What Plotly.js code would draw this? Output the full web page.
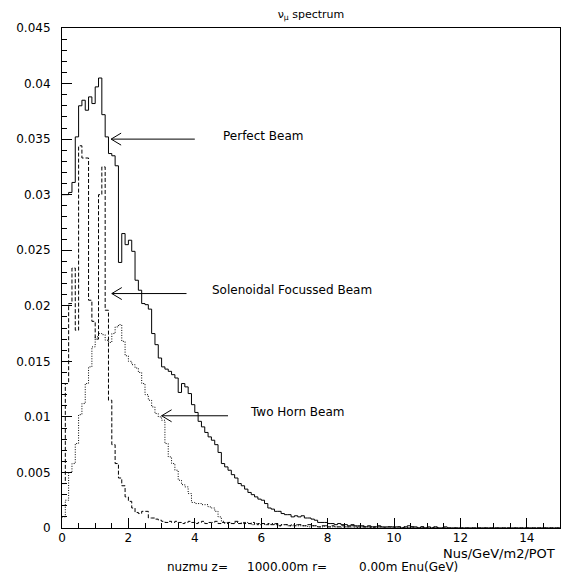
<!DOCTYPE html>
<html>
<head>
<meta charset="utf-8">
<script src="https://cdn.plot.ly/plotly-3.0.1.min.js"></script>
<style>html,body{margin:0;padding:0;background:#fff;}#chart{width:561px;height:575px;}</style>
</head>
<body>
<div id="chart"></div>
<script>
// Bin width (GeV) of the histograms
const BIN = 0.1;

// Perfect Beam (solid)
const perfectBeam = [
0.0300,0.0300,0.0302,0.0311,0.0352,0.0380,0.0385,0.0376,0.0388,0.0382,
0.0397,0.0405,0.0372,0.0352,0.0337,0.0335,0.0326,0.0239,0.0265,0.0255,
0.0259,0.0249,0.0223,0.0214,0.0202,0.0201,0.0197,0.0175,0.0165,0.0153,
0.0145,0.0143,0.0141,0.0138,0.0135,0.0122,0.0130,0.0127,0.0121,0.0111,
0.0104,0.0096,0.0091,0.0086,0.0082,0.0079,0.0075,0.0068,0.0058,0.0055,
0.0052,0.0048,0.0045,0.0040,0.0038,0.0035,0.0032,0.0030,0.0028,0.0026,
0.0025,0.0022,0.0018,0.0017,0.0015,0.0015,0.0013,0.0012,0.0012,0.0010,
0.0011,0.0010,0.0011,0.0009,0.0009,0.0008,0.0007,0.0005,0.0005,0.0005,
0.0004,0.0004,0.0003,0.0004,0.0003,0.0003,0.0002,0.0003,0.0002,0.0002,
0.0002,0.0001,0.0002,0.0001,0.0001,0.0002,0.0001,0.0001,0.0001,0.0001,
0.0001,0.0001,0.0000,0.0001,0.0002,0.0001,0.0001,0.0000,0.0001,0.0000,
0.0001,0.0000,0.0001,0.0000,0.0000,0.0001,0.0000,0.0000,0.0000,0.0000,
0.0000,0.0000,0.0000,0.0000,0.0000,0.0000,0.0000,0.0000,0.0000,0.0000,
0.0000,0.0000,0.0000,0.0000,0.0000,0.0000,0.0000,0.0000,0.0000,0.0000,
0.0000,0.0000,0.0000,0.0000,0.0000,0.0000,0.0000,0.0000,0.0000,0.0000
];

// Solenoidal Focussed Beam (dashed)
const solenoidalBeam = [
0.0040,0.0130,0.0202,0.0234,0.0178,0.0344,0.0333,0.0333,0.0205,0.0186,
0.0170,0.0300,0.0325,0.0196,0.0115,0.0075,0.0058,0.0045,0.0038,0.0028,
0.0024,0.0018,0.0014,0.0013,0.0015,0.0015,0.0009,0.0009,0.0008,0.0007,
0.0006,0.0005,0.0006,0.0005,0.0006,0.0005,0.0004,0.0005,0.0006,0.0005,
0.0004,0.0005,0.0006,0.0004,0.0005,0.0005,0.0006,0.0004,0.0005,0.0004,
0.0005,0.0004,0.0006,0.0004,0.0005,0.0004,0.0004,0.0005,0.0003,0.0004,
0.0004,0.0003,0.0004,0.0003,0.0004,0.0002,0.0003,0.0003,0.0002,0.0003,
0.0002,0.0003,0.0002,0.0002,0.0003,0.0002,0.0002,0.0001,0.0002,0.0002,
0.0001,0.0002,0.0001,0.0001,0.0002,0.0001,0.0001,0.0002,0.0001,0.0001,
0.0001,0.0001,0.0001,0.0000,0.0001,0.0001,0.0001,0.0000,0.0001,0.0001,
0.0000,0.0001,0.0000,0.0001,0.0000,0.0001,0.0000,0.0000,0.0001,0.0000,
0.0000,0.0000,0.0001,0.0000,0.0000,0.0000,0.0000,0.0000,0.0000,0.0000,
0.0000,0.0000,0.0000,0.0000,0.0000,0.0000,0.0000,0.0000,0.0000,0.0000,
0.0000,0.0000,0.0000,0.0000,0.0000,0.0000,0.0000,0.0000,0.0000,0.0000,
0.0000,0.0000,0.0000,0.0000,0.0000,0.0000,0.0000,0.0000,0.0000,0.0000
];

// Two Horn Beam (dotted)
const twoHornBeam = [
0.0010,0.0025,0.0050,0.0058,0.0076,0.0102,0.0112,0.0130,0.0145,0.0163,
0.0172,0.0175,0.0174,0.0169,0.0167,0.0175,0.0181,0.0183,0.0168,0.0155,
0.0150,0.0147,0.0144,0.0140,0.0130,0.0120,0.0115,0.0109,0.0103,0.0100,
0.0097,0.0076,0.0064,0.0058,0.0052,0.0043,0.0039,0.0037,0.0031,0.0023,
0.0022,0.0022,0.0021,0.0021,0.0019,0.0018,0.0015,0.0010,0.0006,0.0005,
0.0005,0.0004,0.0005,0.0004,0.0004,0.0005,0.0004,0.0003,0.0004,0.0003,
0.0004,0.0003,0.0003,0.0004,0.0003,0.0002,0.0003,0.0003,0.0002,0.0002,
0.0003,0.0002,0.0002,0.0002,0.0001,0.0002,0.0002,0.0001,0.0001,0.0002,
0.0001,0.0001,0.0001,0.0001,0.0000,0.0001,0.0001,0.0000,0.0001,0.0000,
0.0001,0.0000,0.0000,0.0001,0.0000,0.0000,0.0000,0.0000,0.0000,0.0000,
0.0000,0.0000,0.0000,0.0000,0.0000,0.0000,0.0000,0.0000,0.0000,0.0000,
0.0000,0.0000,0.0000,0.0000,0.0000,0.0000,0.0000,0.0000,0.0000,0.0000,
0.0000,0.0000,0.0000,0.0000,0.0000,0.0000,0.0000,0.0000,0.0000,0.0000,
0.0000,0.0000,0.0000,0.0000,0.0000,0.0000,0.0000,0.0000,0.0000,0.0000,
0.0000,0.0000,0.0000,0.0000,0.0000,0.0000,0.0000,0.0000,0.0000,0.0000
];

// Arrow labels: text, arrow tip (x, y) and tail x in data units
const labels = ['Perfect Beam', 'Solenoidal Focussed Beam', 'Two Horn Beam'];
const arrowTipX = [1.48, 1.50, 3.00];
const arrowTailX = [4.0, 3.75, 5.0];
const arrowY = [0.0350, 0.0211, 0.0101];
const labelX = [4.8, 4.45, 5.6];

const xTickVals = [0, 2, 4, 6, 8, 10, 12, 14];
const yTickVals = [0, 0.005, 0.01, 0.015, 0.02, 0.025, 0.03, 0.035, 0.04, 0.045];
const yTickText = ['0', '0.005', '0.01', '0.015', '0.02', '0.025', '0.03', '0.035', '0.04', '0.045'];

function histTrace(vals, dash) {
  const x = vals.map((_, i) => +(i * BIN).toFixed(4));
  const y = vals.slice();
  x.push(+(vals.length * BIN).toFixed(4));
  y.push(vals[vals.length - 1]);
  return {
    type: 'scatter', mode: 'lines', x: x, y: y,
    line: {shape: 'hv', color: '#000', width: 1, dash: dash},
    hoverinfo: 'skip', showlegend: false
  };
}

const traces = [
  histTrace(twoHornBeam, '1px,1.5px'),
  histTrace(solenoidalBeam, '4px,2px'),
  histTrace(perfectBeam, 'solid')
];

// Arrow shapes (head ~10 px long, ~6 px half width)
const HX = 10 / 33.2, HY = 6 / 11111;
const shapes = labels.map((_, i) => ({
  type: 'path', xref: 'x', yref: 'y',
  path: `M ${arrowTailX[i]},${arrowY[i]} L ${arrowTipX[i]},${arrowY[i]} ` +
        `M ${arrowTipX[i] + HX},${arrowY[i] + HY} L ${arrowTipX[i]},${arrowY[i]} L ${arrowTipX[i] + HX},${arrowY[i] - HY}`,
  line: {color: '#000', width: 1}
}));

const FONT = 'DejaVu Sans, Verdana, sans-serif';
const annotations = labels.map((t, i) => ({
  text: t, xref: 'x', yref: 'y', x: labelX[i], y: arrowY[i] + 0.0003,
  xanchor: 'left', yanchor: 'middle', showarrow: false,
  font: {family: FONT, size: 12, color: '#000'}
}));

function px2x(px) { return (px - 62) / 498; }
function py2y(py) { return (528 - py) / 500; }

annotations.push({
  text: 'Nus/GeV/m2/POT', xref: 'paper', yref: 'paper',
  x: px2x(557), y: py2y(553), xanchor: 'right', yanchor: 'middle',
  showarrow: false, font: {family: FONT, size: 13, color: '#000'}
});
annotations.push({
  text: 'nuzmu z=', xref: 'paper', yref: 'paper',
  x: px2x(165), y: py2y(567), xanchor: 'left', yanchor: 'middle',
  showarrow: false, font: {family: FONT, size: 12, color: '#000'}
});
annotations.push({
  text: '1000.00m r=', xref: 'paper', yref: 'paper',
  x: px2x(245), y: py2y(567), xanchor: 'left', yanchor: 'middle',
  showarrow: false, font: {family: FONT, size: 12, color: '#000'}
});
annotations.push({
  text: '0.00m Enu(GeV)', xref: 'paper', yref: 'paper',
  x: px2x(357), y: py2y(567), xanchor: 'left', yanchor: 'middle',
  showarrow: false, font: {family: FONT, size: 12, color: '#000'}
});

const layout = {
  width: 561, height: 575,
  margin: {l: 62, r: 1, t: 28, b: 47, pad: 0, autoexpand: false},
  paper_bgcolor: '#fff', plot_bgcolor: '#fff',
  showlegend: false,
  title: {
    text: 'ν<sub>μ</sub> spectrum', xref: 'paper', x: 0.5, xanchor: 'center',
    yref: 'container', y: 1 - 14 / 575, yanchor: 'middle',
    font: {family: FONT, size: 11, color: '#000'}
  },
  xaxis: {
    range: [0, 15], showgrid: false, zeroline: false,
    showline: true, mirror: true, linecolor: '#000', linewidth: 1,
    tickmode: 'array', tickvals: xTickVals,
    ticks: 'inside', ticklen: 10, tickcolor: '#000', tickwidth: 1,
    ticklabelstandoff: -1,
    minor: {dtick: 0.5, ticks: 'inside', ticklen: 5, tickcolor: '#000', showgrid: false},
    tickfont: {family: FONT, size: 12, color: '#000'}
  },
  yaxis: {
    range: [0, 0.045], showgrid: false, zeroline: false,
    showline: true, mirror: true, linecolor: '#000', linewidth: 1,
    tickmode: 'array', tickvals: yTickVals, ticktext: yTickText,
    ticks: 'inside', ticklen: 10, tickcolor: '#000', tickwidth: 1,
    ticklabelstandoff: 8,
    minor: {dtick: 0.001, ticks: 'inside', ticklen: 5, tickcolor: '#000', showgrid: false},
    tickfont: {family: FONT, size: 12, color: '#000'}
  },
  shapes: shapes,
  annotations: annotations
};

Plotly.newPlot('chart', traces, layout, {displayModeBar: false, staticPlot: true});
</script>
</body>
</html>
